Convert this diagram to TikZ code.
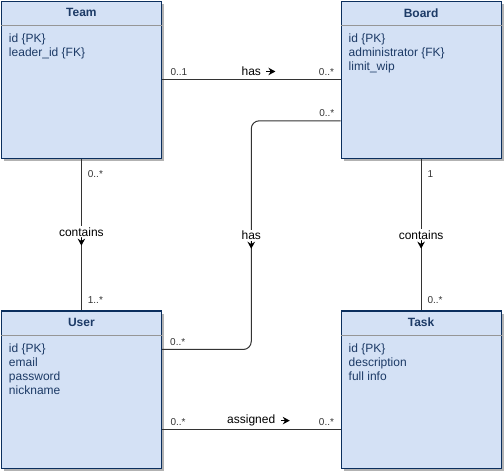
\documentclass[tikz,border=0pt]{standalone}
\usepackage{fontspec}
\setmainfont{Liberation Sans}
\usepackage{xcolor}
\usetikzlibrary{arrows.meta, positioning, calc, shadows}

\definecolor{umlfill}{HTML}{D4E1F5}
\definecolor{umlline}{HTML}{0B2F5E}
\definecolor{umltext}{HTML}{1C3A66}
\definecolor{umlsep}{HTML}{969696}
\definecolor{connline}{HTML}{333333}

\begin{document}
\begin{tikzpicture}[x=1pt, y=-1pt,
    entity/.style={draw=umlline, line width=1.2pt, fill=umlfill, anchor=north west,
        minimum width=160pt, minimum height=157pt, inner sep=0pt,
        drop shadow={shadow xshift=3pt, shadow yshift=-3pt, fill=black!30, opacity=1}},
    title/.style={font=\fontsize{12}{14}\selectfont\bfseries, text=umltext, inner sep=0pt},
    attrs/.style={font=\fontsize{12}{14}\selectfont, text=umltext, align=left, anchor=north west, inner sep=0pt},
    sepline/.style={draw=umlsep, line width=1pt},
    conn/.style={draw=connline, line width=1pt},
    mult/.style={font=\fontsize{10}{12}\selectfont, text=connline, inner sep=0pt},
    lbl/.style={font=\fontsize{12}{14}\selectfont, inner sep=1pt},
    dirarrow/.style={-{Stealth[length=7pt,width=7.5pt]}, black, line width=1.2pt}]

    % Khung ảnh
    \useasboundingbox (0,0) rectangle (504,473);

    % Các lớp (entity)
    \node[entity] (team)  at (0.8,0.8)     {};
    \node[entity] (board) at (340.5,0.8)   {};
    \node[entity] (user)  at (0.8,310.5)   {};
    \node[entity] (task)  at (340.5,310.5) {};

    % Tiêu đề + đường phân cách
    \foreach \e/\t in {team/Team, board/Board, user/User, task/Task} {
        \node[title] at ([yshift=-12pt]\e.north) {\t};
        \draw[sepline] ([yshift=-25pt]\e.north west) -- ([yshift=-25pt]\e.north east);
    }

    % Thuộc tính
    \node[attrs] at ([xshift=8pt,yshift=-33pt]team.north west)  {id \{PK\}\\leader\_id \{FK\}};
    \node[attrs] at ([xshift=8pt,yshift=-33pt]board.north west) {id \{PK\}\\administrator \{FK\}\\limit\_wip};
    \node[attrs] at ([xshift=8pt,yshift=-33pt]user.north west)  {id \{PK\}\\email\\password\\nickname};
    \node[attrs] at ([xshift=8pt,yshift=-33pt]task.north west)  {id \{PK\}\\description\\full info};

    % Team -- Board
    \draw[conn] (team.east) -- (board.west)
        node[mult, pos=0, anchor=south west, xshift=8pt, yshift=4pt] {0..1}
        node[mult, pos=1, anchor=south east, xshift=-6pt, yshift=4pt] {0..*}
        node[lbl, midway, above=2.5pt] (lblhas) {has};
    \draw[dirarrow] ([xshift=4pt]lblhas.east) -- ++(9,0);

    % Team -- User
    \draw[conn] (team.south) -- (user.north)
        node[mult, pos=0, anchor=north west, xshift=6pt, yshift=-11pt] {0..*}
        node[mult, pos=1, anchor=south west, xshift=6pt, yshift=6pt] {1..*}
        node[lbl, midway, fill=white, yshift=3pt] (lblteamuser) {contains};
    \draw[dirarrow] (lblteamuser.south) -- ++(0,8);

    % Board -- Task
    \draw[conn] (board.south) -- (task.north)
        node[mult, pos=0, anchor=north west, xshift=6pt, yshift=-11pt] {1}
        node[mult, pos=1, anchor=south west, xshift=6pt, yshift=6pt] {0..*}
        node[lbl, midway, fill=white] (lblboardtask) {contains};
    \draw[dirarrow] (lblboardtask.south) -- ++(0,8);

    % Board -- User (đường gấp khúc bo góc)
    \coordinate (bu1) at ([yshift=-120pt]board.north west);
    \coordinate (bu2) at ([yshift=-39pt]user.north east);
    \coordinate (bumid) at ($(bu1)!0.5!(bu2)$);
    \draw[conn, rounded corners=8pt] (bu1) -| (bumid) |- (bu2);
    \node[mult, anchor=south east, xshift=-6pt, yshift=4pt] at (bu1) {0..*};
    \node[mult, anchor=south west, xshift=8pt, yshift=4pt] at (bu2) {0..*};
    \node[lbl, fill=white] (lblboarduser) at (bumid) {has};
    \draw[dirarrow] (lblboarduser.south) -- ++(0,8);

    % User -- Task
    \draw[conn] ([yshift=39pt]user.south east) -- ([yshift=39pt]task.south west)
        node[mult, pos=0, anchor=south west, xshift=8pt, yshift=4pt] {0..*}
        node[mult, pos=1, anchor=south east, xshift=-6pt, yshift=4pt] {0..*}
        node[lbl, midway, above=2pt] (lblassign) {assigned};
    \draw[dirarrow] ([xshift=4pt]lblassign.east) -- ++(9,0);
\end{tikzpicture}
\end{document}
